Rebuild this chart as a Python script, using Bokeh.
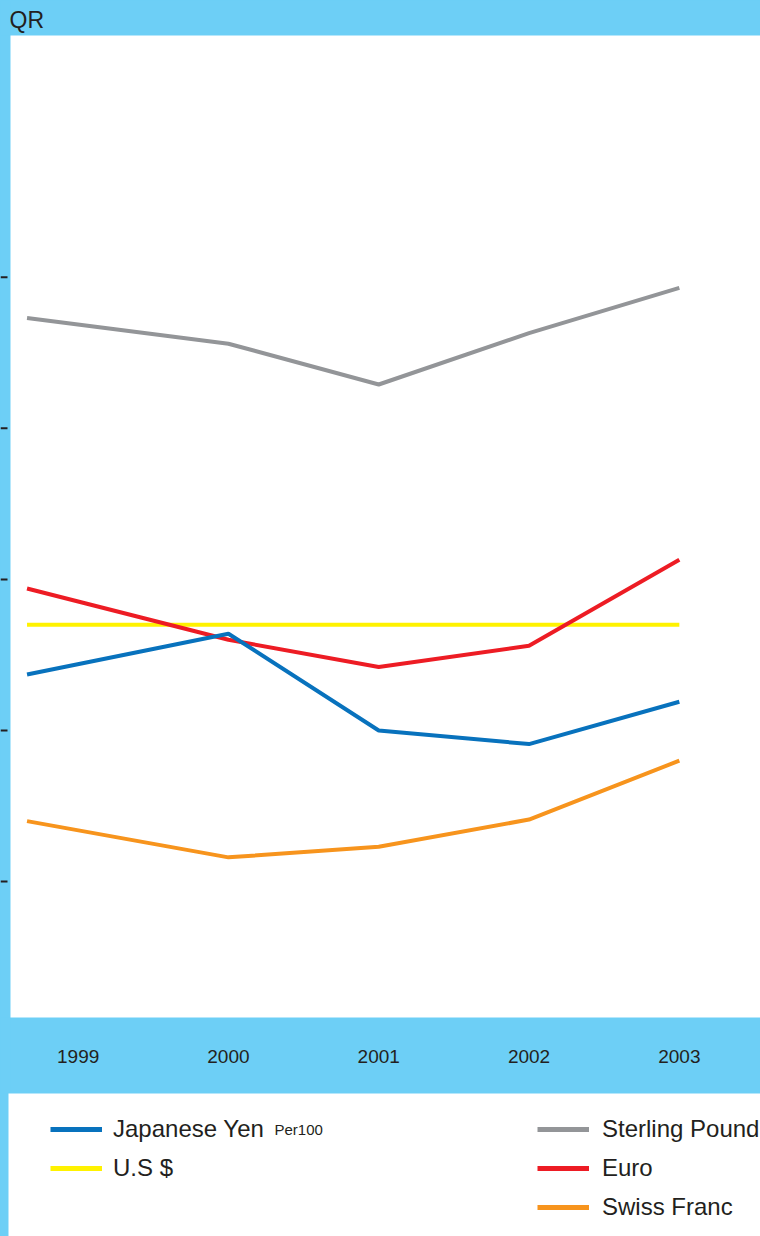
from bokeh.plotting import figure
from bokeh.layouts import column, row
from bokeh.models import Range1d, FixedTicker, Legend, LegendItem, Label, ColumnDataSource
from bokeh.embed import file_html
from bokeh.resources import INLINE

# Exchange rates against the Qatari Riyal (QR)
years = [1999, 2000, 2001, 2002, 2003]
# horizontal positions of the plotted points (first point sits at the left inset)
point_x = [1998.66, 2000.0, 2001.0, 2002.0, 2003.0]

japanese_yen = [3.37, 3.64, 3.00, 2.91, 3.19]   # per 100 yen
us_dollar = [3.70, 3.70, 3.70, 3.70, 3.70]
sterling_pound = [5.73, 5.56, 5.29, 5.63, 5.93]
euro = [3.94, 3.60, 3.42, 3.56, 4.13]
swiss_franc = [2.40, 2.16, 2.23, 2.41, 2.80]

y_ticks = [2, 3, 4, 5, 6]

BAND = "#6dcff6"
INK = "#231f20"
FONT = "Liberation Sans"

series = [
    ("Japanese Yen", japanese_yen, "#0872bd"),
    ("U.S $", us_dollar, "#fff200"),
    ("Sterling Pound", sterling_pound, "#939598"),
    ("Euro", euro, "#ed1c24"),
    ("Swiss Franc", swiss_franc, "#f7941d"),
]
draw_order = ["Sterling Pound", "U.S $", "Euro", "Japanese Yen", "Swiss Franc"]
lookup = {name: (vals, col) for name, vals, col in series}

y_range = Range1d(1.10, 7.60)

# Main chart panel
p = figure(width=750, height=1093,
           x_range=Range1d(1998.55, 2003.54), y_range=y_range,
           output_backend="svg", toolbar_location=None,
           y_axis_location=None,
           min_border_left=0, min_border_right=0,
           min_border_top=35, min_border_bottom=76,
           background_fill_color="white", border_fill_color=BAND,
           outline_line_color=None)

p.title.text = "QR"
p.title.text_font = FONT
p.title.text_font_size = "23px"
p.title.text_font_style = "normal"
p.title.text_color = INK
p.title.align = "left"
p.title.offset = -1
p.title.standoff = 6

p.grid.visible = False

xa = p.xaxis[0]
xa.ticker = FixedTicker(ticks=years)
xa.axis_line_color = None
xa.major_tick_line_color = None
xa.minor_tick_line_color = None
xa.major_label_text_font = FONT
xa.major_label_text_font_size = "19px"
xa.major_label_text_color = INK
xa.major_label_standoff = 26

for name in draw_order:
    vals, col = lookup[name]
    src = ColumnDataSource(dict(x=point_x, y=vals))
    p.line("x", "y", source=src, line_color=col, line_width=4)

# Narrow strip on the left carrying the value tick marks
strip = figure(width=10, height=1093,
               x_range=Range1d(0, 10), y_range=y_range,
               output_backend="svg", toolbar_location=None,
               x_axis_location=None, y_axis_location=None,
               min_border_left=0, min_border_right=0,
               min_border_top=35, min_border_bottom=76,
               background_fill_color=BAND, border_fill_color=BAND,
               outline_line_color=None)
strip.grid.visible = False
strip.segment(x0=0, x1=7, y0=y_ticks, y1=y_ticks, line_color=INK, line_width=2)

# Legend strip underneath the chart
lg = figure(width=760, height=143,
            x_range=Range1d(0, 752), y_range=Range1d(0, 143),
            output_backend="svg", toolbar_location=None,
            min_border_left=8, min_border_right=0,
            min_border_top=0, min_border_bottom=0,
            x_axis_location=None, y_axis_location=None,
            background_fill_color="white", border_fill_color=BAND,
            outline_line_color=None)
lg.grid.visible = False

# legend swatches: same series, lying outside this panel's visible range
swatch = {}
for name, vals, col in series:
    swatch[name] = lg.line(x=point_x, y=vals, line_color=col, line_width=5)


def make_legend(names, loc, standoff):
    leg = Legend(items=[LegendItem(label=n, renderers=[swatch[n]]) for n in names],
                 location=loc, orientation="vertical",
                 glyph_width=52, glyph_height=20, label_height=20,
                 label_standoff=standoff, spacing=11, padding=0, margin=0,
                 label_text_font=FONT, label_text_font_size="24px",
                 label_text_color=INK,
                 background_fill_alpha=0, border_line_alpha=0)
    lg.add_layout(leg, "center")
    return leg


make_legend(["Japanese Yen", "U.S $"], (42, 54), 11)
make_legend(["Sterling Pound", "Euro", "Swiss Franc"], (529, 15), 13)

lg.add_layout(Label(x=266, y=107, text="Per100", text_font=FONT,
                    text_font_size="15px", text_color=INK,
                    text_baseline="alphabetic"))

top = row(strip, p, spacing=0, styles={"background-color": BAND})
layout = column(top, lg, spacing=0, styles={"background-color": BAND})

with open("out.html", "w") as f:
    f.write(file_html(layout, INLINE))
